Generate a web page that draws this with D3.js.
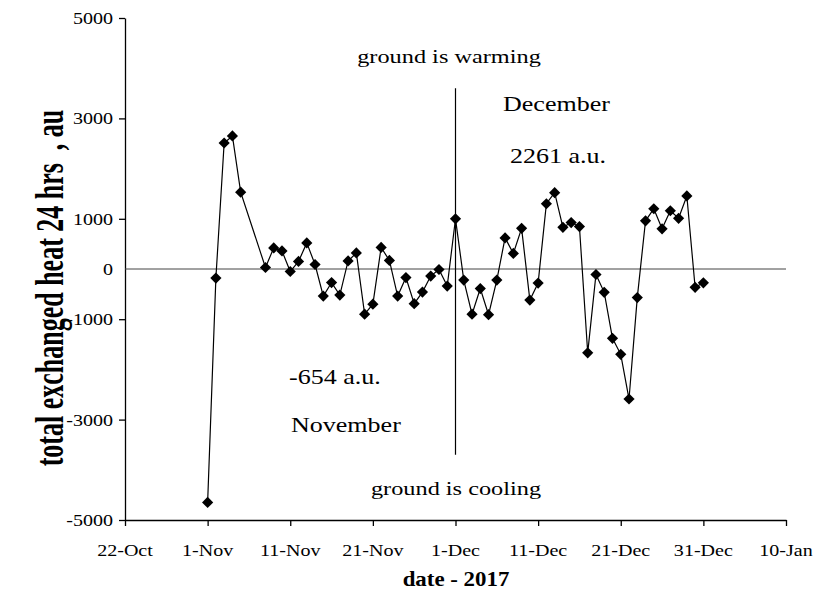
<!DOCTYPE html>
<html>
<head>
<meta charset="utf-8">
<script src="https://cdn.jsdelivr.net/npm/d3@7"></script>
<style>
  body { margin: 0; background: #fff; }
  text { font-family: "Liberation Serif", "Times New Roman", serif; fill: #000; white-space: pre; }
</style>
</head>
<body>
<div id="chart"></div>
<script>
// daily values (no data on 6-7 Nov)
const novDays = [1, 2, 3, 4, 5, 8, 9, 10, 11, 12, 13, 14, 15, 16, 17, 18, 19, 20, 21, 22, 23, 24, 25, 26, 27, 28, 29, 30];
const novValues = [-4650, -180, 2510, 2650, 1530, 30, 420, 360, -50, 150, 520, 90, -540, -270, -520, 160, 320, -900, -700, 430, 170, -540, -170, -690, -460, -140, -10, -340];
const decDays = d3.range(1, 32);
const decValues = [1000, -220, -900, -390, -910, -220, 620, 310, 810, -620, -280, 1300, 1520, 830, 925, 845, -1670, -110, -465, -1380, -1700, -2590, -570, 960, 1200, 800, 1160, 1010, 1455, -365, -275];

const xTicks = ["2017-10-22", "2017-11-01", "2017-11-11", "2017-11-21", "2017-12-01", "2017-12-11", "2017-12-21", "2017-12-31", "2018-01-10"];
const yTicks = [-5000, -3000, -1000, 1000, 3000, 5000];
const yLabels = [-5000, -3000, -1000, 0, 1000, 3000, 5000];
const divider = { date: "2017-12-01", top: 3600, bottom: -3700 };

const data = novDays.map((d, i) => ({ date: new Date(Date.UTC(2017, 10, d)), v: novValues[i] }))
  .concat(decDays.map((d, i) => ({ date: new Date(Date.UTC(2017, 11, d)), v: decValues[i] })));

const width = 822, height = 596;
const margin = { top: 18, right: 36, bottom: 76, left: 125 };

const x = d3.scaleUtc()
  .domain([new Date(xTicks[0]), new Date(xTicks[xTicks.length - 1])])
  .range([margin.left, width - margin.right]);
const y = d3.scaleLinear()
  .domain([-5000, 5000])
  .range([height - margin.bottom, margin.top]);

const svg = d3.select("#chart").append("svg")
  .attr("width", width).attr("height", height);

// axes
svg.append("g")
  .attr("transform", `translate(0,${y(-5000)})`)
  .call(d3.axisBottom(x).tickValues(xTicks.map(d => new Date(d))).tickSize(6).tickSizeOuter(0).tickFormat(() => ""));
svg.append("g")
  .attr("transform", `translate(${margin.left},0)`)
  .call(d3.axisLeft(y).tickValues(yTicks).tickSize(6).tickSizeOuter(0).tickFormat(() => ""));
svg.selectAll(".domain, .tick line").attr("stroke", "#000").attr("stroke-width", 1.3);

// text in the picture is a bit wider than tall
function stretched(sel, px, py, sx) {
  return sel.attr("transform", `translate(${px},${py}) scale(${sx},1)`);
}

// tick labels
svg.append("g").selectAll("text")
  .data(xTicks)
  .join("text")
  .attr("text-anchor", "middle")
  .attr("font-size", 17)
  .text(d => d3.utcFormat("%-d-%b")(new Date(d)))
  .each(function (d) { stretched(d3.select(this), x(new Date(d)), 556, 1.18); });

svg.append("g").selectAll("text")
  .data(yLabels)
  .join("text")
  .attr("text-anchor", "end")
  .attr("font-size", 17)
  .attr("dy", "0.35em")
  .text(d => d)
  .each(function (d) { stretched(d3.select(this), 113, y(d), 1.18); });

// zero line and month divider
svg.append("line")
  .attr("x1", x.range()[0]).attr("x2", x.range()[1])
  .attr("y1", y(0)).attr("y2", y(0))
  .attr("stroke", "#444").attr("stroke-width", 1);
svg.append("line")
  .attr("x1", x(new Date(divider.date))).attr("x2", x(new Date(divider.date)))
  .attr("y1", y(divider.top)).attr("y2", y(divider.bottom))
  .attr("stroke", "#000").attr("stroke-width", 1.2);

// series
svg.append("path")
  .datum(data)
  .attr("fill", "none")
  .attr("stroke", "#000")
  .attr("stroke-width", 1.2)
  .attr("d", d3.line().x(d => x(d.date)).y(d => y(d.v)));

const r = 5.6;
svg.append("g").selectAll("path")
  .data(data)
  .join("path")
  .attr("d", `M0,${-r}L${r},0L0,${r}L${-r},0Z`)
  .attr("transform", d => `translate(${x(d.date)},${y(d.v)})`)
  .attr("fill", "#000");

// annotations
const notes = [
  { t: "ground is warming", x: 449, y: 63, a: "middle", fs: 19, sx: 1.28 },
  { t: "December", x: 503, y: 111, a: "start", fs: 21, sx: 1.24 },
  { t: "2261 a.u.", x: 510, y: 163, a: "start", fs: 21, sx: 1.24 },
  { t: "-654 a.u.", x: 289, y: 384, a: "start", fs: 21, sx: 1.24 },
  { t: "November", x: 291, y: 432, a: "start", fs: 21, sx: 1.24 },
  { t: "ground is cooling", x: 456, y: 495, a: "middle", fs: 19, sx: 1.28 }
];
notes.forEach(n => {
  stretched(svg.append("text")
    .attr("text-anchor", n.a)
    .attr("font-size", n.fs)
    .text(n.t), n.x, n.y, n.sx);
});

// axis titles
svg.append("text")
  .attr("text-anchor", "middle")
  .attr("font-size", 22)
  .attr("font-weight", "bold")
  .attr("transform", `translate(456,586) scale(1.04,1)`)
  .text("date - 2017");

svg.append("text")
  .attr("text-anchor", "middle")
  .attr("font-size", 26)
  .attr("font-weight", "bold")
  .attr("transform", `translate(63,288) scale(1.5,1) rotate(-90)`)
  .text("total exchanged heat 24 hrs  , au");
</script>
</body>
</html>
